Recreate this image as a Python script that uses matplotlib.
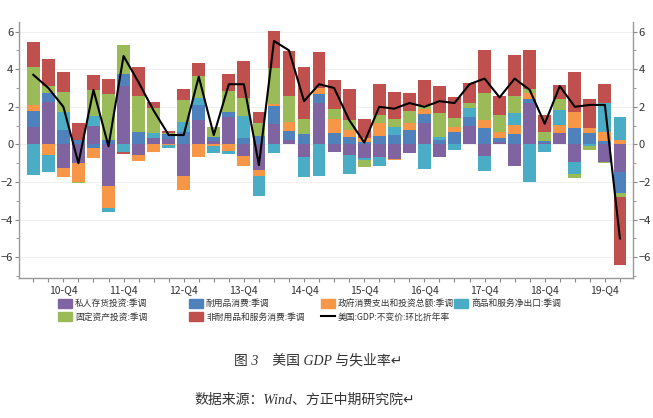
import matplotlib
matplotlib.use("Agg")
import matplotlib.pyplot as plt
import numpy as np
from matplotlib.patches import Patch
from matplotlib.lines import Line2D
from matplotlib.ticker import MultipleLocator

plt.rcParams['font.family'] = ['Noto Sans CJK SC', 'DejaVu Sans']

# quarters 2010Q2 .. 2020Q1
years = list(range(2010, 2021))
quarters = []
for y in years:
    for q in range(1, 5):
        if (y == 2010 and q < 2) or (y == 2020 and q > 1):
            continue
        quarters.append((y, q))
tick_labels = [f"{y % 100:02d}-Q{q}" if q == 4 else "" for (y, q) in quarters]

names = ["私人存货投资:季调", "耐用品消费:季调", "政府消费支出和投资总额:季调",
         "商品和服务净出口:季调", "固定资产投资:季调", "非耐用品和服务消费:季调"]
line_name = "美国:GDP:不变价:环比折年率"

inventory = [0.91, 2.28, -1.23, -1.0, 1.0, -2.22, 3.11, -0.57, 0.32, 0.3,
             -1.69, 1.3, 0.2, 1.44, -0.62, -1.37, 1.08, 0.23, -0.66, 2.19,
             -0.41, -0.57, -0.7, -0.69, -0.75, -0.48, 1.12, -0.69, 0.0, 1.0,
             -0.62, 0.14, -1.16, 2.19, 0.1, 0.59, -0.92, 0.0, -0.92, -1.46]
durables = [0.89, 0.48, 0.76, 0.23, -0.21, 0.23, 0.62, 0.68, 0.0, 0.25,
            0.68, 0.8, 0.2, 0.3, 0.32, 0.44, 0.98, 0.48, 0.53, 0.5,
            0.6, 0.4, 0.15, 0.44, 0.5, 0.76, 0.5, 0.25, 0.68, 0.48,
            0.85, 0.18, 0.58, 0.21, 0.1, 0.0, 0.85, 0.6, 0.2, -1.12]
government = [0.28, -0.57, -0.5, -0.98, -0.52, -1.16, 0.0, -0.3, -0.39, -0.05,
              -0.75, -0.66, -0.1, -0.36, -0.53, -0.32, 0.09, 0.5, 0.0, 0.3,
              0.73, 0.39, 0.2, 0.68, -0.07, 0.4, 0.25, 0.0, 0.23, 0.0,
              0.44, 0.32, 0.44, 0.36, 0.0, 0.44, 0.89, 0.27, 0.48, 0.23]
net_exports = [-1.65, -0.9, 0.94, 0.0, 0.5, -0.2, -0.39, 0.0, 0.27, -0.13,
               0.53, 0.36, -0.35, -0.16, 1.19, -1.07, -0.43, 0.0, -1.07, -1.69,
               0.0, -1.01, -0.15, -0.46, 0.41, 0.0, -1.33, 0.15, -0.3, 0.44,
               -0.78, 0.0, 0.66, -2.0, -0.39, 0.8, -0.66, -0.1, 1.51, 1.24]
fixed_inv = [2.04, 0.32, 1.08, -0.09, 1.39, 2.45, 1.55, 1.9, 1.32, 0.08,
             1.16, 1.16, 0.5, 1.12, 0.94, 0.68, 1.9, 1.39, 0.8, 0.0,
             0.57, 0.53, -0.35, 0.44, 0.44, 0.6, 0.23, 1.25, 0.52, 0.27,
             1.46, 0.92, 0.89, 0.18, 0.48, 0.57, -0.2, -0.18, -0.09, -0.21]
nondurables = [1.3, 1.46, 1.05, 0.92, 0.8, 0.82, -0.14, 1.55, 0.32, 0.08,
               0.57, 0.71, 0.05, 0.87, 2.0, 0.59, 1.96, 2.38, 2.76, 1.9,
               1.55, 1.65, 1.0, 1.67, 1.46, 0.96, 1.33, 1.43, 1.08, 1.07,
               2.28, 1.01, 2.19, 2.06, 0.89, 0.76, 2.13, 1.56, 1.03, -3.64]
gdp = [3.7, 3.0, 2.0, -1.0, 2.9, -0.1, 4.7, 3.3, 1.8, 0.5,
       0.5, 3.6, 0.5, 3.2, 3.2, -1.1, 5.5, 5.0, 2.3, 3.2,
       3.0, 1.3, 0.1, 2.0, 1.9, 2.2, 2.0, 2.3, 2.2, 3.2,
       3.5, 2.5, 3.5, 2.9, 1.1, 3.1, 2.0, 2.1, 2.1, -5.0]

series = [inventory, durables, government, net_exports, fixed_inv, nondurables]
colors = ["#8064A2", "#4F81BD", "#F79646", "#4BACC6", "#9BBB59", "#C0504D"]

fig = plt.figure(figsize=(6.53, 4.18), dpi=100)
ax = fig.add_axes([0.0291, 0.335, 0.9403, 0.612])

x = np.arange(len(quarters))
pos_base = np.zeros(len(x))
neg_base = np.zeros(len(x))
for vals, c in zip(series, colors):
    v = np.array(vals)
    bottom = np.where(v >= 0, pos_base, neg_base)
    ax.bar(x, v, bottom=bottom, width=0.85, color=c, linewidth=0, zorder=2)
    pos_base = pos_base + np.where(v >= 0, v, 0)
    neg_base = neg_base + np.where(v < 0, v, 0)

ax.plot(x, gdp, color="black", lw=1.5, zorder=3)

ax.set_xlim(-0.95, len(x) - 0.13)
ax.set_ylim(-7.1, 6.5)
ax.set_xticks(x)
ax.set_xticklabels(tick_labels, fontsize=7.5, color="#333333")
ax.yaxis.set_major_locator(MultipleLocator(2))
ax.yaxis.set_minor_locator(MultipleLocator(1))
ax.tick_params(axis='y', which='both', left=True, right=True, labelleft=True,
               labelright=True, labelsize=8, colors="#333333", length=3, pad=1)
ax.tick_params(axis='y', which='minor', length=2)
ax.tick_params(axis='x', length=3, color="#888888", pad=2)
ax.tick_params(axis='y', which='both', color="#888888")
ax.grid(axis='y', color="#eeeeee", lw=0.6, zorder=0)
for s in ["left", "right", "bottom"]:
    ax.spines[s].set_color("#999999")
    ax.spines[s].set_linewidth(1.0)
ax.spines["top"].set_visible(False)

handles = [Patch(color=c) for c in colors] + [Line2D([0], [0], color="black", lw=1.5)]
labels = names + [line_name]
cols = [[0, 4], [1, 5], [2, 6], [3]]
col_x = [58, 189, 321, 454]
W, H = 653.0, 418.0
for cidx, xpix in zip(cols, col_x):
    leg = fig.legend([handles[i] for i in cidx], [labels[i] for i in cidx],
                     loc="upper left", bbox_to_anchor=(xpix / W, 1 - 298.5 / H),
                     frameon=False, fontsize=6.3, handlelength=1.65,
                     handleheight=1.25, handletextpad=0.3, labelspacing=0.45,
                     borderpad=0, borderaxespad=0)
    for t in leg.get_texts():
        t.set_color("#333333")

cap_family = ['Liberation Serif', 'Noto Sans CJK SC', 'DejaVu Sans']
fig.text(318 / W, 1 - 361 / H, "图 3　美国 GDP 与失业率↵", ha="center", va="center",
         fontsize=10, color="#333333", style="italic", family=cap_family)
fig.text(305 / W, 1 - 400 / H, "数据来源：Wind、方正中期研究院↵", ha="center", va="center",
         fontsize=10, color="#333333", style="italic", family=cap_family)

fig.savefig("out.png", dpi=100)
